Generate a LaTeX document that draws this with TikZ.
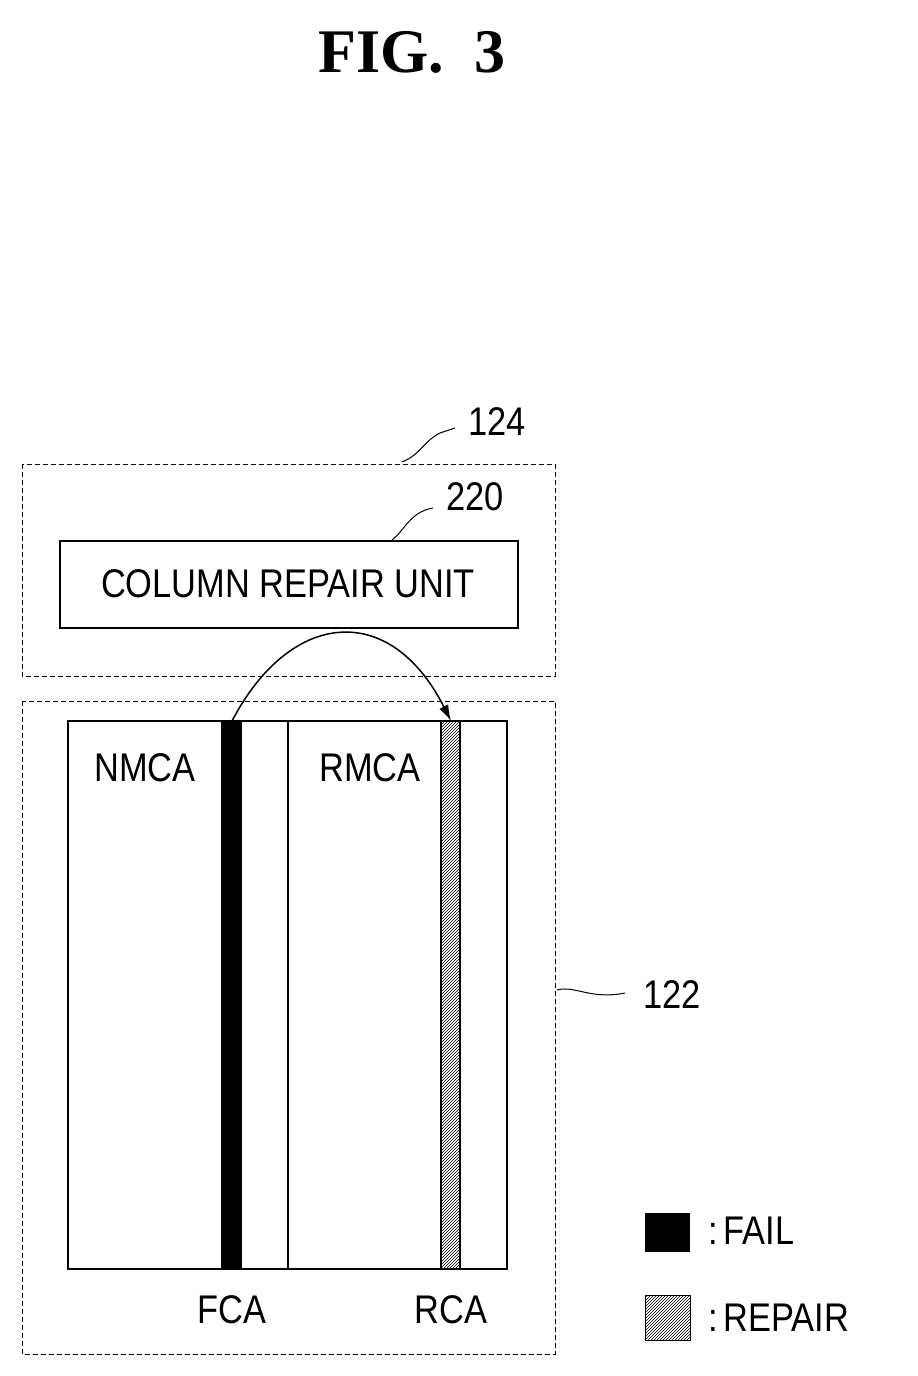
\documentclass[tikz,border=0pt]{standalone}
\usepackage{fontspec}
\setmainfont{Liberation Sans}
\newfontfamily\titlefont{Liberation Serif}
\usetikzlibrary{patterns,arrows.meta}
\tikzset{
 dbox/.style={draw,dash pattern=on 5pt off 3pt,line width=1pt},
 lbl/.style={font=\fontsize{40}{40}\selectfont,inner sep=0pt},
 lead/.style={line width=1pt},
}
\newcommand{\nx}[1]{\scalebox{0.86}[1]{#1}}
\begin{document}
\begin{tikzpicture}[x=1pt,y=-1pt]
\useasboundingbox (0,0) rectangle (918,1376);
\node[inner sep=0pt,font=\titlefont\bfseries\fontsize{62}{62}\selectfont] (title) at (412,52) {FIG.~~3};
% 124
\draw[dbox] (22,464) rectangle (555,676);
\node[lbl] (l124) at (497,422) {\nx{124}};
\draw[lead] (402,462) .. controls (420,455) and (425,440) .. (440,433) -- (455,428);
% 220
\node[draw,line width=1.5pt,minimum width=458pt,minimum height=87pt,inner sep=0pt] (cru) at (289,584.5) {};
\node[lbl] (cruT) at (288,584) {\nx{COLUMN REPAIR UNIT}};
\node[lbl] (l220) at (475,497) {\nx{220}};
\draw[lead] (392,540) .. controls (405,530) and (410,512) .. (433,508);
% 122
\draw[dbox] (22,701) rectangle (555,1354);
\node[lbl] (l122) at (672,995) {\nx{122}};
\draw[lead] (557,990) .. controls (575,985) and (590,1000) .. (625,993);
% array
\draw[line width=2pt] (68,721) rectangle (507,1269);
\draw[line width=2pt] (288,721) -- (288,1269);
\fill (221,721) rectangle (242,1269);
\draw[line width=1.5pt,pattern=north east lines] (441,721) rectangle (460,1269);
\node[lbl] (nmca) at (145,768) {\nx{NMCA}};
\node[lbl] (rmca) at (370,768) {\nx{RMCA}};
\node[lbl] (fca) at (232,1310) {\nx{FCA}};
\node[lbl] (rca) at (451,1310) {\nx{RCA}};
\coordinate (fs) at (232,721);
\coordinate (re) at (451,721);
\draw[line width=1.5pt,-{Latex[length=16pt,width=10pt]}] (fs) .. controls (290,610) and (390,600) .. (re);
% legend
\fill (645,1213) rectangle (690,1252);
\node[lbl,anchor=west] (fail) at (708,1231) {\nx{:\,FAIL}};
\draw[line width=1pt,pattern=north east lines] (645,1295) rectangle (690,1340);
\node[lbl,anchor=west] (rep) at (708,1318) {\nx{:\,REPAIR}};
\end{tikzpicture}
\end{document}
